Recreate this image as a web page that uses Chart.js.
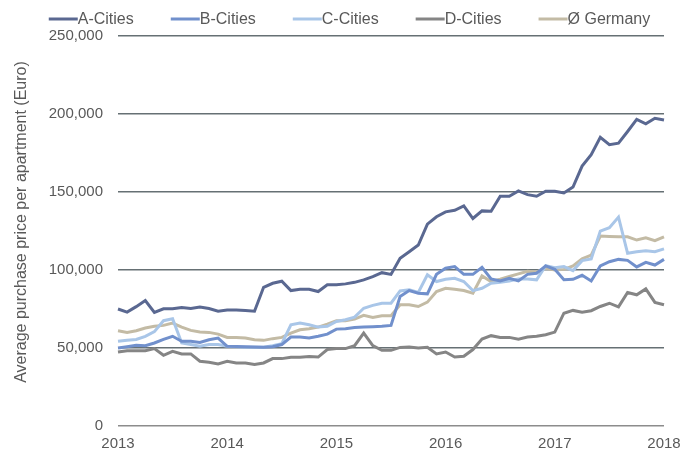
<!DOCTYPE html>
<html>
<head>
<meta charset="utf-8">
<script src="https://cdn.jsdelivr.net/npm/chart.js@4"></script>
<style>
    html, body { margin: 0; padding: 0; background: #fff; }
</style>
</head>
<body>
<canvas id="priceChart" width="699" height="462"></canvas>
<script>
// Years shown on the x axis, monthly points from Jan 2013 to Jan 2018
const years = ['2013', '2014', '2015', '2016', '2017', '2018'];
const months = [];
years.forEach((year, i) => {
    const count = i < years.length - 1 ? 12 : 1;
    for (let m = 1; m <= count; m++) {
        months.push(year + '-' + String(m).padStart(2, '0'));
    }
});

// Average purchase price per apartment (Euro)
const aCities = [75000, 73000, 76500, 80400, 72800, 75100, 75100, 76000, 75300, 76200, 75300, 73600,
    74400, 74400, 74000, 73600, 88900, 91500, 92800, 86800, 87700, 87700, 86200, 90500,
    90500, 91100, 92100, 93700, 95800, 98300, 97200, 107500, 111700, 116000, 129400, 134100,
    137300, 138300, 141100, 133000, 137900, 137700, 147300, 147300, 150700, 148300, 147300, 150500,
    150500, 149400, 153200, 166600, 173900, 185000, 180300, 181300, 188800, 196500, 193700, 197300,
    196200];
const bCities = [50000, 50800, 51700, 51500, 53200, 55500, 57500, 54300, 54300, 53600, 55300, 56400,
    51100, 51000, 50800, 50600, 50500, 50800, 52200, 57000, 57000, 56400, 57500, 58900,
    62100, 62400, 63200, 63400, 63700, 63900, 64500, 83000, 86800, 85100, 84700, 97200,
    101100, 102200, 97200, 97200, 101700, 94300, 93000, 94700, 93000, 97200, 97900, 102600,
    100400, 93700, 94000, 96600, 93000, 102600, 105300, 106800, 106200, 102000, 104900, 103200,
    106800];
const cCities = [54300, 55000, 55500, 57500, 60500, 67500, 68800, 53200, 52200, 51100, 52200, 52200,
    51100, 50800, 50500, 50500, 50500, 51500, 52800, 64900, 66000, 64900, 63400, 63900,
    67000, 68100, 69800, 75500, 77300, 78700, 78700, 86600, 87300, 85600, 96900, 92600,
    94100, 94700, 92600, 86800, 88300, 91500, 92100, 93000, 94300, 94300, 93700, 102800,
    101500, 102200, 99600, 106000, 107100, 124900, 127100, 133900, 110700, 111700, 112400, 111700,
    113500];
const dCities = [47400, 48300, 48300, 48300, 49600, 45300, 47900, 46200, 46200, 41500, 40900, 39800,
    41500, 40400, 40400, 39400, 40400, 43200, 43200, 44100, 44100, 44500, 44200, 49000,
    49600, 49600, 51500, 59600, 51500, 48500, 48500, 50400, 50600, 50000, 50400, 46200,
    47400, 44200, 44700, 49000, 55700, 57900, 56800, 56800, 55700, 57000, 57500, 58500,
    60200, 72300, 74100, 73000, 73900, 76600, 78700, 76400, 85600, 84100, 87900, 79200,
    77700];
const germany = [61100, 60000, 61100, 62800, 63900, 64500, 66000, 63400, 61300, 60200, 60000, 58900,
    56800, 56800, 56400, 55300, 54900, 56000, 56800, 59600, 61700, 62400, 63400, 65300,
    67500, 67500, 68500, 70900, 69600, 70700, 70700, 77700, 77700, 76600, 79400, 86200,
    88300, 87700, 86800, 85100, 96200, 92600, 94100, 95800, 97500, 99200, 98800, 101100,
    100000, 100400, 102600, 107100, 109600, 121800, 121500, 121300, 121300, 119200, 120700, 118800,
    121300];

const FONT = '"Liberation Sans", Arial, Helvetica, sans-serif';
const TEXT_COLOR = '#595959';
const Y_TITLE = 'Average purchase price per apartment (Euro)';

// Legend drawn as short line + label, centred above the plot
const lineLegend = {
    id: 'lineLegend',
    afterDraw(chart) {
        const ctx = chart.ctx;
        const lineLen = 29;
        const gap = 37;
        const y = 19;
        ctx.save();
        ctx.font = '16px ' + FONT;
        const items = chart.data.datasets.map(ds => ({
            text: ds.label,
            color: ds.borderColor,
            width: ctx.measureText(ds.label).width
        }));
        const total = items.reduce((sum, it) => sum + lineLen + it.width, 0) + gap * (items.length - 1);
        let x = (chart.width - total) / 2;
        items.forEach(it => {
            ctx.strokeStyle = it.color;
            ctx.lineWidth = 3;
            ctx.beginPath();
            ctx.moveTo(x, y);
            ctx.lineTo(x + lineLen, y);
            ctx.stroke();
            ctx.fillStyle = TEXT_COLOR;
            ctx.textBaseline = 'middle';
            ctx.fillText(it.text, x + lineLen, y + 1);
            x += lineLen + it.width + gap;
        });
        ctx.restore();
    }
};

// Rotated y axis title, sits a bit above the plot centre like the original
const yTitle = {
    id: 'yTitle',
    afterDraw(chart) {
        const ctx = chart.ctx;
        ctx.save();
        ctx.font = '16px ' + FONT;
        ctx.fillStyle = TEXT_COLOR;
        ctx.textAlign = 'center';
        ctx.textBaseline = 'middle';
        ctx.translate(22, 222);
        ctx.rotate(-Math.PI / 2);
        ctx.fillText(Y_TITLE, 0, 0);
        ctx.restore();
    }
};

function series(label, data, color) {
    return {
        label: label,
        data: data,
        borderColor: color,
        backgroundColor: color,
        borderWidth: 3,
        pointRadius: 0,
        tension: 0,
        fill: false
    };
}

new Chart(document.getElementById('priceChart').getContext('2d'), {
    type: 'line',
    data: {
        labels: months,
        datasets: [
            series('A-Cities', aCities, '#5a6891'),
            series('B-Cities', bCities, '#7190cc'),
            series('C-Cities', cCities, '#a9c6e8'),
            series('D-Cities', dCities, '#858585'),
            series('Ø Germany', germany, '#c3bba5')
        ]
    },
    plugins: [lineLegend, yTitle],
    options: {
        responsive: false,
        animation: false,
        layout: {
            padding: { top: 36, right: 35, bottom: 0, left: 0 }
        },
        plugins: {
            legend: { display: false },
            tooltip: { enabled: false }
        },
        scales: {
            x: {
                offset: false,
                grid: { display: false, drawTicks: false },
                border: { display: false },
                ticks: {
                    autoSkip: false,
                    maxRotation: 0,
                    padding: 9,
                    color: TEXT_COLOR,
                    font: { family: FONT, size: 15 },
                    callback: function(value, index) {
                        return index % 12 === 0 ? years[index / 12] : '';
                    }
                }
            },
            y: {
                min: 0,
                max: 250000,
                afterFit: function(scale) {
                    scale.width = 118;
                },
                grid: {
                    drawTicks: false,
                    lineWidth: 1.5,
                    color: function(context) {
                        return context.tick && context.tick.value === 0 ? '#8c8c8c' : '#667074';
                    }
                },
                border: { display: false },
                ticks: {
                    stepSize: 50000,
                    padding: 15,
                    color: TEXT_COLOR,
                    font: { family: FONT, size: 15 },
                    callback: function(value) {
                        return value.toLocaleString('en-US');
                    }
                }
            }
        }
    }
});
</script>
</body>
</html>
